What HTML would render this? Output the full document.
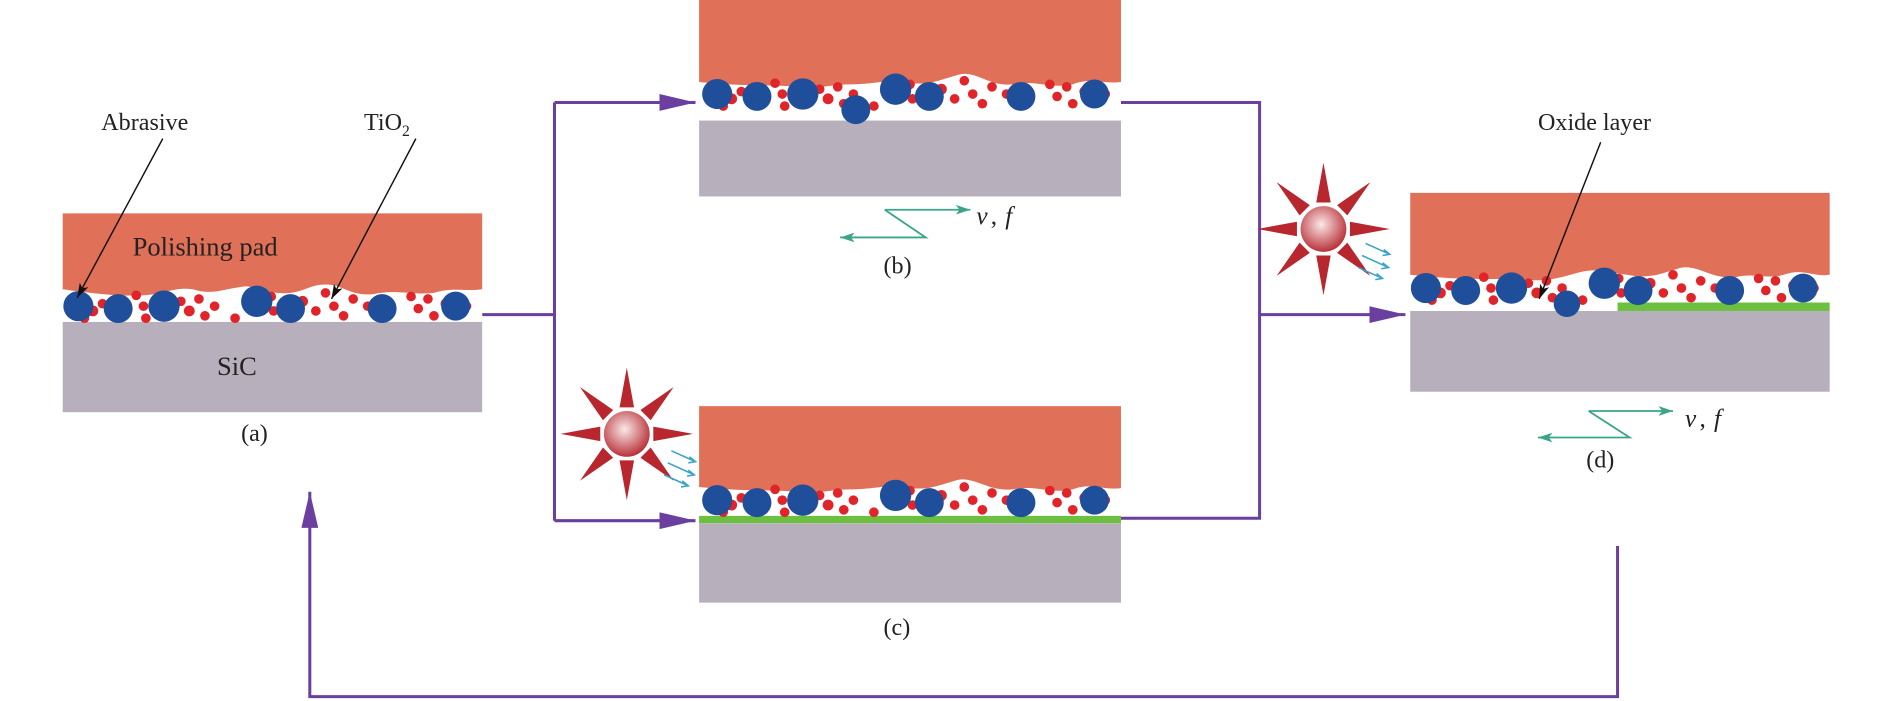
<!DOCTYPE html>
<html><head><meta charset="utf-8"><style>html,body{margin:0;padding:0;background:#fff}svg{display:block}</style></head>
<body>
<svg width="1890" height="701" viewBox="0 0 1568 581.6" xmlns="http://www.w3.org/2000/svg" font-family="Liberation Serif, serif">
<defs>
<radialGradient id="sg" cx="0.45" cy="0.4" r="0.6"><stop offset="0" stop-color="#fbe8e8"/><stop offset="1" stop-color="#b8323a"/></radialGradient>
<linearGradient id="sp" x1="0" y1="0" x2="0" y2="1"><stop offset="0" stop-color="#f3c9c9"/><stop offset="1" stop-color="#b0202a"/></linearGradient>
<g id="sun">
<g fill="#b8262e">
<polygon points="-6,-22 0,-55 6,-22"/><polygon points="-6,-22 0,-55 6,-22" transform="rotate(45)"/>
<polygon points="-6,-22 0,-55 6,-22" transform="rotate(90)"/><polygon points="-6,-22 0,-55 6,-22" transform="rotate(135)"/>
<polygon points="-6,-22 0,-55 6,-22" transform="rotate(180)"/><polygon points="-6,-22 0,-55 6,-22" transform="rotate(225)"/>
<polygon points="-6,-22 0,-55 6,-22" transform="rotate(270)"/><polygon points="-6,-22 0,-55 6,-22" transform="rotate(315)"/>
</g>
<circle r="19" fill="url(#sg)"/>
</g>
<g id="rays" stroke="#3aa3c8" stroke-width="1.3" fill="none">
<path d="M0,0 L20,9 M15,5 L20,9 L14,10"/><path d="M-3,10 L19,20 M14,16 L19,20 L13,21"/><path d="M-6,20 L14,29 M9,25 L14,29 L8,30"/>
</g>
<g id="slurry">
<g fill="#e0242a">
<circle cx="22" cy="18" r="4.5"/><circle cx="30" cy="12" r="4"/><circle cx="15" cy="24" r="4"/><circle cx="48" cy="20" r="4"/>
<circle cx="58" cy="5" r="4"/><circle cx="64" cy="14" r="4"/><circle cx="66" cy="24" r="4"/><circle cx="95" cy="10" r="4"/>
<circle cx="102" cy="18" r="4.5"/><circle cx="110" cy="8" r="4"/><circle cx="115" cy="22" r="4"/><circle cx="123" cy="14" r="4"/>
<circle cx="170" cy="6" r="4"/><circle cx="172" cy="18" r="4"/><circle cx="183" cy="23" r="4"/><circle cx="196" cy="10" r="4.5"/>
<circle cx="207" cy="18" r="4"/><circle cx="215" cy="3" r="4"/><circle cx="222" cy="14" r="4"/><circle cx="230" cy="22" r="4"/>
<circle cx="238" cy="8" r="4"/><circle cx="286" cy="6" r="4"/><circle cx="292" cy="16" r="4"/><circle cx="300" cy="8" r="4"/>
<circle cx="305" cy="22" r="4"/><circle cx="315" cy="12" r="4.5"/><circle cx="322" cy="20" r="4"/><circle cx="332" cy="14" r="4"/>
<circle cx="140" cy="24" r="4"/><circle cx="80" cy="22" r="3.5"/><circle cx="250" cy="14" r="4"/>
</g>
<g fill="#1f4f9a">
<circle cx="10" cy="14" r="12.5"/><circle cx="43" cy="16" r="12"/><circle cx="81" cy="14" r="13"/><circle cx="158" cy="10" r="13"/>
<circle cx="186" cy="16" r="12"/><circle cx="262" cy="16" r="12"/><circle cx="323" cy="14" r="12"/>
</g>
</g>
<marker id="ah" viewBox="0 0 30 14" refX="30" refY="7" markerWidth="30" markerHeight="14" markerUnits="userSpaceOnUse" orient="auto"><path d="M0,0 L30,7 L0,14 Z" fill="#6b3fa0"/></marker>
<marker id="ta" viewBox="0 0 12 8" refX="12" refY="4" markerWidth="12" markerHeight="8" markerUnits="userSpaceOnUse" orient="auto"><path d="M0,0 L12,4 L0,8 L3,4 Z" fill="#3aa58a"/></marker>
<marker id="bk" viewBox="0 0 12 8" refX="12" refY="4" markerWidth="12" markerHeight="8" markerUnits="userSpaceOnUse" orient="auto"><path d="M0,0 L12,4 L0,8 L3,4 Z" fill="#111"/></marker>
</defs>

<!-- connectors -->
<g stroke="#6b3fa0" stroke-width="2.5" fill="none">
<path d="M400,261 H460 M460,85 V432"/>
<path d="M460,85 H577" marker-end="url(#ah)"/>
<path d="M460,432 H577" marker-end="url(#ah)"/>
<path d="M930,85 H1045 V430 H930"/>
<path d="M1045,261 H1166" marker-end="url(#ah)"/>
<path d="M1342,453 V578 H257 V408" marker-end="url(#ah)"/>
</g>

<!-- panel a -->
<rect x="52" y="267" width="348" height="75" fill="#b8afbd"/>
<rect x="52" y="238" width="348" height="29" fill="#fff"/>
<path d="M52,177 H400 V240 C385,242 375,238 360,243 C340,245 330,240 310,244 C290,246 285,236 270,236 C255,236 250,245 230,243 C215,242 210,236 200,238 C185,240 175,245 160,240 C145,238 140,243 120,245 C100,246 80,244 52,240 Z" fill="#e07058"/>
<use href="#slurry" x="55" y="240"/>
<text x="110" y="212" font-size="22" fill="#222">Polishing pad</text>
<text x="180" y="311" font-size="22" fill="#222">SiC</text>
<text x="200" y="366" font-size="20" fill="#222">(a)</text>

<!-- panel b -->
<rect x="580" y="100" width="350" height="63" fill="#b8afbd"/>
<rect x="580" y="64" width="350" height="36" fill="#fff"/>
<path d="M580,0 H930 V68 C915,70 905,64 890,70 C870,74 860,66 840,70 C820,72 810,58 795,62 C780,66 770,72 750,68 C735,66 725,70 705,70 C690,70 680,74 660,72 C640,70 620,72 580,68 Z" fill="#e07058"/>
<use href="#slurry" x="585" y="64"/>
<circle cx="710" cy="91" r="12" fill="#1f4f9a"/>
<polyline points="734,174 805,174" stroke="#3aa58a" stroke-width="1.5" fill="none" marker-end="url(#ta)"/>
<polyline points="734,174 768,197 697,197" stroke="#3aa58a" stroke-width="1.5" fill="none" marker-end="url(#ta)"/>
<text x="810" y="186" font-size="21" font-style="italic" fill="#222">v</text><text x="822" y="186" font-size="21" fill="#222">,</text><text x="834" y="186" font-size="21" font-style="italic" fill="#222">f</text>
<text x="733" y="227" font-size="20" fill="#222">(b)</text>

<!-- panel c -->
<rect x="580" y="434" width="350" height="66" fill="#b8afbd"/>
<rect x="580" y="400" width="350" height="34" fill="#fff"/>
<rect x="580" y="428" width="350" height="6" fill="#6cc040"/>
<path d="M580,337 H930 V405 C915,407 905,400 890,406 C870,410 860,402 840,406 C820,408 810,396 795,398 C780,402 770,408 750,404 C735,402 725,406 705,406 C690,406 680,410 660,408 C640,406 620,408 580,404 Z" fill="#e07058"/>
<use href="#slurry" x="585" y="401"/>
<use href="#sun" x="520" y="360"/>
<use href="#rays" x="557" y="374"/>
<text x="733" y="527" font-size="20" fill="#222">(c)</text>

<!-- panel d -->
<rect x="1170" y="258" width="348" height="67" fill="#b8afbd"/>
<rect x="1170" y="225" width="348" height="33" fill="#fff"/>
<rect x="1342" y="251" width="176" height="7" fill="#6cc040"/>
<path d="M1170,160 H1518 V228 C1505,230 1495,222 1480,228 C1465,232 1455,226 1440,230 C1420,232 1410,220 1395,222 C1380,226 1370,232 1350,228 C1335,226 1325,222 1310,226 C1295,230 1285,234 1265,232 C1245,230 1225,234 1170,228 Z" fill="#e07058"/>
<use href="#slurry" x="1173" y="225"/>
<circle cx="1300" cy="252" r="11" fill="#1f4f9a"/>
<use href="#sun" x="1098" y="190"/>
<use href="#rays" x="1133" y="202"/>
<polyline points="1318,341 1388,341" stroke="#3aa58a" stroke-width="1.5" fill="none" marker-end="url(#ta)"/>
<polyline points="1318,341 1352,363 1276,363" stroke="#3aa58a" stroke-width="1.5" fill="none" marker-end="url(#ta)"/>
<text x="1398" y="354" font-size="21" font-style="italic" fill="#222">v</text><text x="1410" y="354" font-size="21" fill="#222">,</text><text x="1422" y="354" font-size="21" font-style="italic" fill="#222">f</text>
<text x="1316" y="388" font-size="20" fill="#222">(d)</text>

<!-- leader labels -->
<text x="84" y="108" font-size="20" fill="#222">Abrasive</text>
<text x="302" y="108" font-size="20" fill="#222">TiO<tspan font-size="13" dy="5">2</tspan></text>
<text x="1276" y="108" font-size="20" fill="#222">Oxide layer</text>
<g stroke="#111" stroke-width="1.2" fill="none">
<path d="M135,115 L64,247" marker-end="url(#bk)"/>
<path d="M345,115 L275,248" marker-end="url(#bk)"/>
<path d="M1328,118 L1277,248" marker-end="url(#bk)"/>
</g>
</svg>
</body></html>
